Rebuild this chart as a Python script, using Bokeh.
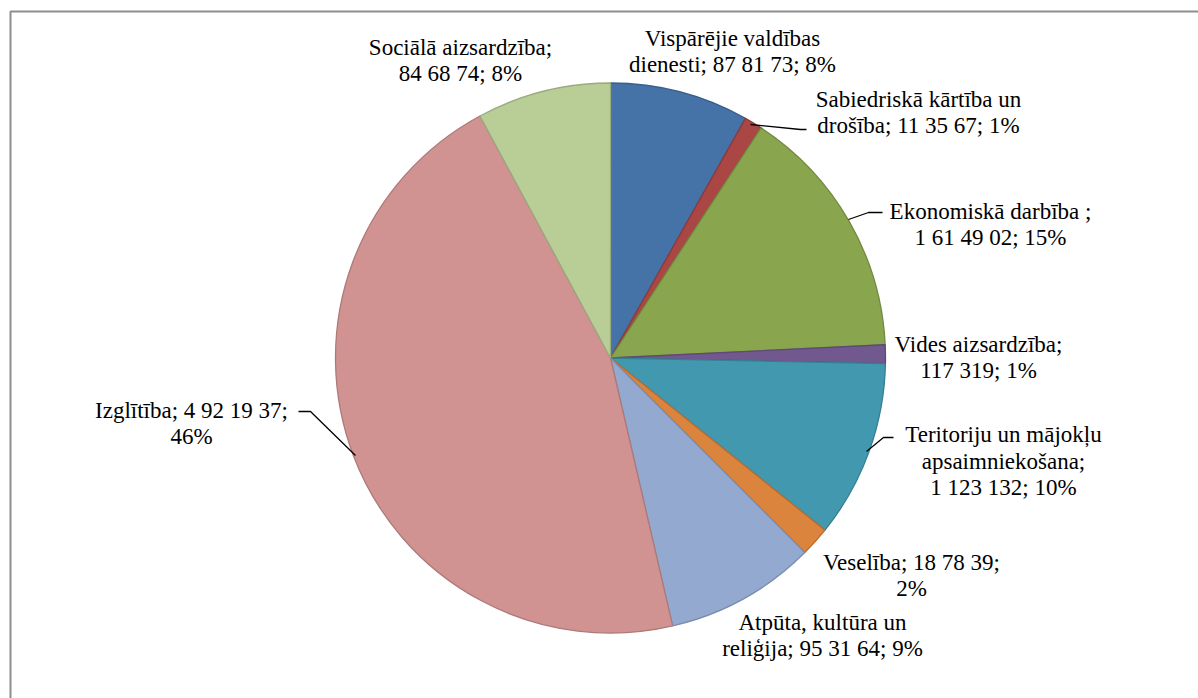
import math
from bokeh.plotting import figure
from bokeh.models import Range1d, ColumnDataSource, Label
from bokeh.embed import file_html
from bokeh.resources import INLINE

# ---- data ----
categories = ["Vispārējie valdības dienesti", "Sabiedriskā kārtība un drošība",
              "Ekonomiskā darbība ", "Vides aizsardzība",
              "Teritoriju un mājokļu apsaimniekošana", "Veselība",
              "Atpūta, kultūra un reliģija", "Izglītība", "Sociālā aizsardzība"]
values = [878173, 113567, 1614902, 117319, 1123132, 187839, 953164, 4921937, 846874]
value_labels = ["87 81 73", "11 35 67", "1 61 49 02", "117 319", "1 123 132",
                "18 78 39", "95 31 64", "4 92 19 37", "84 68 74"]
colors = ["#4572A7", "#AA4643", "#89A54E", "#71588F", "#4198AF",
          "#DB843D", "#93A9CF", "#D19392", "#B9CD96"]
edge_colors = ["#3A5F8B", "#8E3A38", "#71893F", "#5E4977", "#367E92",
               "#B66E33", "#7A8DAD", "#AD7A79", "#9AAB7D"]

# ---- layout (screen pixel positions) ----
W, H = 1198, 698
def sx(X):
    return X
def sy(Y):
    return H - Y

CX, CY, R = 610, 357.5, 275
LS = 26.5
line_breaks = [[2], [3], [3], [2], [3, 1], [4], [3], [5], [2]]
label_pos = [(732, 51), (918, 112), (990, 224), (978, 357), (1003, 460.5),
             (911, 575), (822, 635), (191, 423), (460, 60)]
leaders = [
    [(750, 124), (800, 129), (806, 129)],
    [(848, 219), (868, 212), (882, 212)],
    [(866, 451), (883, 437), (893, 437)],
    [(355, 455), (310, 411), (298, 411)],
]

total = float(sum(values))
starts, ends, cum = [], [], 0.0
for v in values:
    starts.append(math.pi / 2 - 2 * math.pi * cum / total)
    cum += v
    ends.append(math.pi / 2 - 2 * math.pi * cum / total)

src = ColumnDataSource(dict(start=starts, end=ends, fill=colors, edge=edge_colors))

p = figure(width=W, height=H, x_range=Range1d(0, W), y_range=Range1d(0, H),
           output_backend="svg", toolbar_location=None, min_border=0)
p.axis.visible = False
p.grid.visible = False
p.outline_line_color = None
p.background_fill_color = "white"
p.border_fill_color = "white"

# frame border
p.line(x=[sx(10), sx(10), sx(1210)], y=[sy(710), sy(11), sy(11)],
       line_color="#8d8d8d", line_width=2)

p.wedge(x=sx(CX), y=sy(CY), radius=R, start_angle="start", end_angle="end",
        direction="clock", fill_color="fill", line_color="edge", line_width=1.3,
        source=src)

# leader lines
p.multi_line(xs=[[sx(a) for a, b in L] for L in leaders],
             ys=[[sy(b) for a, b in L] for L in leaders],
             line_color="black", line_width=1.3)

# labels, one text item per line
for name, vl, v, br, (lx, ly) in zip(categories, value_labels, values, line_breaks, label_pos):
    pct = round(100 * v / total)
    full = f"{name}; {vl}; {pct}%"
    words = full.split(" ")
    lines, i = [], 0
    for n in br:
        lines.append(" ".join(words[i:i + n]))
        i += n
    lines.append(" ".join(words[i:]))
    n = len(lines)
    for k, ln in enumerate(lines):
        p.add_layout(Label(x=sx(lx), y=sy(ly + (k - (n - 1) / 2) * LS), text=ln,
                           text_align="center", text_baseline="middle",
                           text_font="Liberation Serif", text_font_size="23px",
                           text_color="black"))

open("out.html", "w").write(file_html(p, INLINE))
